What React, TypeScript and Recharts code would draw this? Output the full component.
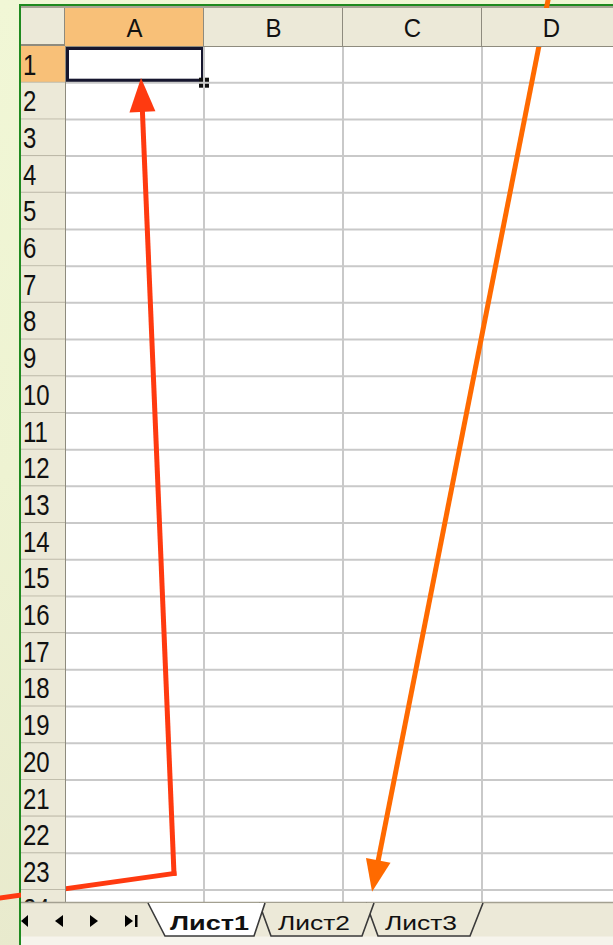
import React from "react";
import { ComposedChart, XAxis, YAxis, ReferenceLine, ReferenceArea } from "recharts";

// ---------- data ----------
const columns = ["A", "B", "C", "D"];
const rowNumbers = [1, 2, 3, 4, 5, 6, 7, 8, 9, 10, 11, 12, 13, 14, 15, 16, 17, 18, 19, 20, 21, 22, 23, 24];
const columnBoundaries = [1, 2, 3];
const rowBoundaries = [1, 2, 3, 4, 5, 6, 7, 8, 9, 10, 11, 12, 13, 14, 15, 16, 17, 18, 19, 20, 21, 22, 23];
const sheetTabs = ["Лист1", "Лист2", "Лист3"];
const activeSheet = "Лист1";
const selectedColumn = "A";
const selectedRow = 1;
// arrows in sheet coordinates (x: columns, y: rows from top)
const redArrow = [
  { x: -0.47, y: 23.22 },
  { x: 0.784, y: 22.55 },
  { x: 0.547, y: 0.87 },
];
const orangeArrow = [
  { x: 3.475, y: -1.25 },
  { x: 2.209, y: 23.05 },
];

// ---------- layout ----------
const W = 613;
const H = 945;
const SHEET_LEFT = 21;
const HEADER_TOP = 8;
const PLOT_LEFT = 65;
const PLOT_TOP = 46;
const PLOT_BOTTOM = 912;
const COL_PX = 139;
const X_MAX = (W - PLOT_LEFT) / COL_PX;
const Y_MAX = 23.6;
const ROW_PX = (PLOT_BOTTOM - PLOT_TOP) / Y_MAX;
const FONT = "'Liberation Sans', Arial, sans-serif";

const HDR_BG = "#ece9d8";
const HDR_SEL = "#f8c078";
const HDR_LINE = "#8e8b7e";
const ROWHDR_SEP = "#bdb9a8";
const GRID = "#c9c9c9";
const RED = "#ff3a10";
const ORANGE = "#ff6a00";

const tabLayout = [
  { poly: [[148, 903], [165, 936], [254, 936], [265, 903]], tx: 170, tl: 79 },
  { poly: [[259, 903], [271, 936], [362, 936], [374, 903]], tx: 278, tl: 72 },
  { poly: [[366, 903], [378, 936], [470, 936], [483, 903]], tx: 385, tl: 72 },
];

const ColumnHeaderTick = (props: any) => {
  const { x, payload } = props;
  const label = columns[Math.floor(payload.value)];
  const sel = label === selectedColumn;
  const left = x - COL_PX / 2;
  return (
    <g>
      <rect x={left} y={HEADER_TOP} width={COL_PX} height={PLOT_TOP - HEADER_TOP} fill={sel ? HDR_SEL : HDR_BG} />
      <line x1={left + COL_PX} x2={left + COL_PX} y1={HEADER_TOP} y2={PLOT_TOP} stroke={HDR_LINE} strokeWidth={2} />
      <text
        transform={`translate(${x},${27.5}) scale(1,1.1)`}
        textAnchor="middle"
        dominantBaseline="central"
        fontSize={24}
        fontFamily={FONT}
        fill="#111"
      >
        {label}
      </text>
    </g>
  );
};

const RowHeaderTick = (props: any) => {
  const { y, payload } = props;
  const row = rowNumbers[Math.floor(payload.value)];
  const sel = row === selectedRow;
  const top = y - ROW_PX / 2;
  return (
    <g>
      <rect x={SHEET_LEFT} y={top} width={PLOT_LEFT - SHEET_LEFT} height={ROW_PX} fill={sel ? HDR_SEL : HDR_BG} />
      <line x1={SHEET_LEFT} x2={PLOT_LEFT} y1={top + ROW_PX} y2={top + ROW_PX} stroke={ROWHDR_SEP} strokeWidth={2} />
      <text
        transform={`translate(${23},${y + 0.5}) scale(1,1.2)`}
        textAnchor="start"
        dominantBaseline="central"
        fontSize={24}
        fontFamily={FONT}
        fill="#111"
      >
        {row}
      </text>
    </g>
  );
};

const SelectionShape = (props: any) => {
  const { x, y, width, height } = props;
  const hx = x + width;
  const hy = y + height;
  return (
    <g>
      <rect x={x + 2} y={y + 2} width={width - 3} height={height - 4} fill="none" stroke="#16162e" strokeWidth={4} />
      <rect x={hx - 5} y={hy - 5} width={10} height={10} fill="#111" />
      <line x1={hx - 5} x2={hx + 5} y1={hy} y2={hy} stroke="#fff" strokeWidth={1} />
      <line x1={hx} x2={hx} y1={hy - 5} y2={hy + 5} stroke="#fff" strokeWidth={1} />
    </g>
  );
};

const makeArrowShape = (color: string, head: boolean, headLen: number, headW: number) => (props: any) => {
  const x1 = Number(props.x1);
  const y1 = Number(props.y1);
  const x2 = Number(props.x2);
  const y2 = Number(props.y2);
  const dx = x2 - x1;
  const dy = y2 - y1;
  const len = Math.sqrt(dx * dx + dy * dy) || 1;
  const ux = dx / len;
  const uy = dy / len;
  const nx = -uy;
  const ny = ux;
  if (!head) {
    return <line x1={x1} y1={y1} x2={x2} y2={y2} stroke={color} strokeWidth={5} strokeLinecap="square" />;
  }
  const bx = x2 - ux * headLen;
  const by = y2 - uy * headLen;
  const pts = `${x2},${y2} ${bx + (nx * headW) / 2},${by + (ny * headW) / 2} ${bx - (nx * headW) / 2},${by - (ny * headW) / 2}`;
  return (
    <g>
      <line x1={x1} y1={y1} x2={bx + ux * 2} y2={by + uy * 2} stroke={color} strokeWidth={5} strokeLinecap="square" />
      <polygon points={pts} fill={color} />
    </g>
  );
};

const TabBar = () => {
  const order = [2, 1, 0];
  return (
    <svg width={W} height={H} style={{ position: "absolute", left: 0, top: 0, pointerEvents: "none" }}>
      <rect x={SHEET_LEFT} y={902} width={W - SHEET_LEFT} height={35} fill={HDR_BG} />
      <line x1={SHEET_LEFT} x2={W} y1={902.5} y2={902.5} stroke="#a3a091" strokeWidth={1.5} />
      <rect x={SHEET_LEFT} y={936.5} width={W - SHEET_LEFT} height={9} fill="#f6f4ec" />
      {/* navigation buttons */}
      <polygon points="21,921 28,915 28,927" fill="#000" />
      <polygon points="55,921 63,915 63,927" fill="#000" />
      <polygon points="98,921 90,915 90,927" fill="#000" />
      <polygon points="133,921 125,915 125,927" fill="#000" />
      <rect x={135} y={915} width={2.5} height={12} fill="#000" />
      {order.map((i) => {
        const t = tabLayout[i];
        const name = sheetTabs[i];
        const active = name === activeSheet;
        const p = t.poly;
        const polyStr = p.map((q) => q.join(",")).join(" ");
        return (
          <g key={name}>
            <polygon points={polyStr} fill={active ? "#ffffff" : HDR_BG} />
            <polyline points={polyStr} fill="none" stroke="#3a3a3a" strokeWidth={1.6} />
            <text
              x={t.tx}
              y={930}
              fontSize={21}
              fontWeight={active ? 700 : 400}
              fontFamily={FONT}
              textLength={t.tl}
              lengthAdjust="spacingAndGlyphs"
              fill="#111"
            >
              {name}
            </text>
          </g>
        );
      })}
    </svg>
  );
};

export default function App() {
  return (
    <div
      style={{
        position: "absolute",
        left: 0,
        top: 0,
        width: W,
        height: H,
        overflow: "hidden",
        background: "linear-gradient(170deg, #f1f7d6 0%, #eef3d2 45%, #e7e8cc 100%)",
      }}
    >
      <div style={{ position: "absolute", left: 19, top: 4, width: W - 19, height: 2, background: "#1f8a1f" }} />
      <div style={{ position: "absolute", left: 19, top: 4, width: 2, height: H - 4, background: "#1f8a1f" }} />
      <div style={{ position: "absolute", left: 21, top: 6, width: W - 21, height: H - 6, background: "#ffffff" }} />
      <div style={{ position: "absolute", left: 21, top: 6, width: W - 21, height: 2, background: "#a8a496" }} />
      <div
        style={{
          position: "absolute",
          left: 21,
          top: 8,
          width: 43,
          height: 36,
          background: HDR_BG,
          borderRight: `2px solid ${HDR_LINE}`,
          borderBottom: `2px solid ${HDR_LINE}`,
        }}
      />
      <div style={{ position: "absolute", left: 0, top: 0 }}>
        <ComposedChart
          width={W}
          height={H}
          margin={{ top: 7, right: 0, bottom: H - PLOT_BOTTOM, left: SHEET_LEFT }}
        >
          <XAxis
            type="number"
            dataKey="col"
            orientation="top"
            domain={[0, X_MAX]}
            allowDataOverflow
            ticks={columns.map((_, i) => i + 0.5)}
            interval={0}
            height={PLOT_TOP - 7}
            tickLine={false}
            axisLine={{ stroke: HDR_LINE, strokeWidth: 2 }}
            tick={<ColumnHeaderTick />}
          />
          <YAxis
            type="number"
            dataKey="row"
            reversed
            domain={[0, Y_MAX]}
            allowDataOverflow
            ticks={rowNumbers.map((_, i) => i + 0.5)}
            interval={0}
            width={PLOT_LEFT - SHEET_LEFT}
            tickLine={false}
            axisLine={{ stroke: HDR_LINE, strokeWidth: 2 }}
            tick={<RowHeaderTick />}
          />
          {columnBoundaries.map((c) => (
            <ReferenceLine key={"c" + c} x={c} stroke={GRID} strokeWidth={2} />
          ))}
          {rowBoundaries.map((r) => (
            <ReferenceLine key={"r" + r} y={r} stroke={GRID} strokeWidth={2} />
          ))}
          <ReferenceArea
            x1={columns.indexOf(selectedColumn)}
            x2={columns.indexOf(selectedColumn) + 1}
            y1={selectedRow - 1}
            y2={selectedRow}
            shape={SelectionShape}
          />
          <ReferenceLine
            segment={[redArrow[0], redArrow[1]]}
            ifOverflow="visible"
            shape={makeArrowShape(RED, false, 0, 0)}
          />
          <ReferenceLine
            segment={[redArrow[1], redArrow[2]]}
            ifOverflow="visible"
            shape={makeArrowShape(RED, true, 34, 26)}
          />
          <ReferenceLine
            segment={[orangeArrow[0], orangeArrow[1]]}
            ifOverflow="visible"
            shape={makeArrowShape(ORANGE, true, 32, 25)}
          />
        </ComposedChart>
      </div>
      <TabBar />
    </div>
  );
}
